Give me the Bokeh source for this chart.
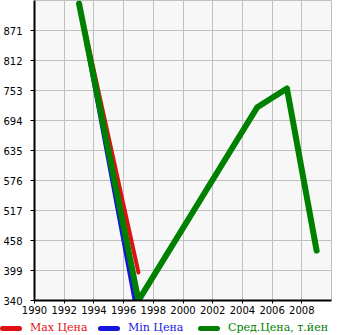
from bokeh.plotting import figure
from bokeh.models import Range1d, FixedTicker, Div
from bokeh.layouts import column
from bokeh.embed import file_html
from bokeh.resources import INLINE

years_range = [1993, 1997]
max_price = [924, 395]
min_price = [924, 300]
years = [1993, 1997, 2005, 2007, 2009]
avg_price = [924, 340, 720, 757, 438]
y_ticks = [340, 399, 458, 517, 576, 635, 694, 753, 812, 871]
x_ticks = [1990, 1992, 1994, 1996, 1998, 2000, 2002, 2004, 2006, 2008]
labels = ["Max Цена", "Min Цена", "Сред.Цена, т.йен"]
colors = ["#dd1111", "#1515dd", "#008000"]

p = figure(width=345, height=318, output_backend="svg", toolbar_location=None,
           x_range=Range1d(1990, 2010), y_range=Range1d(340, 930),
           min_border_left=31, min_border_right=14, min_border_top=0, min_border_bottom=18)

p.background_fill_color = "#f7f7f7"
p.border_fill_color = "white"
p.outline_line_color = "#c0c0c0"

for ax in (p.xaxis[0], p.yaxis[0]):
    ax.axis_line_color = "black"
    ax.axis_line_width = 2
    ax.major_tick_line_color = "black"
    ax.major_tick_in = 0
    ax.major_tick_out = 4
    ax.minor_tick_line_color = None
    ax.major_label_text_font = "DejaVu Sans"
    ax.major_label_text_font_size = "10px"
    ax.major_label_text_color = "black"
p.xaxis[0].ticker = FixedTicker(ticks=x_ticks)
p.yaxis[0].ticker = FixedTicker(ticks=y_ticks)
p.xaxis[0].major_tick_out = 3
p.xaxis[0].major_label_standoff = 2
p.yaxis[0].major_label_standoff = 8

p.xgrid[0].ticker = FixedTicker(ticks=x_ticks + [2010])
p.ygrid[0].ticker = FixedTicker(ticks=y_ticks)
for g in (p.xgrid[0], p.ygrid[0]):
    g.grid_line_color = "#c0c0c0"
    g.grid_line_width = 1

p.line(years_range, max_price, line_color=colors[0], line_width=4, line_cap="round", line_join="round")
p.line(years_range, min_price, line_color=colors[1], line_width=4, line_cap="round", line_join="round")
p.line(years, avg_price, line_color=colors[2], line_width=6, line_cap="round", line_join="round")

# legend row as HTML (keys + coloured labels)
key_left = [0, 98, 198]
parts = []
for lab, col, left in zip(labels, colors, key_left):
    parts.append(
        f'<span style="position:absolute;left:{left}px;top:8px;width:22px;height:5px;'
        f'border-radius:3px;background:{col};"></span>'
        f'<span style="position:absolute;left:{left + 30}px;top:1px;line-height:17px;'
        f'font-family:\'DejaVu Serif\';font-size:11px;color:{col};white-space:nowrap;">{lab}</span>'
    )
html = '<div style="position:relative;width:345px;height:17px;">' + "".join(parts) + "</div>"
legend_div = Div(text=html, width=345, height=17, margin=0)

layout = column(p, legend_div, spacing=0)
open("out.html", "w").write(file_html(layout, INLINE))
